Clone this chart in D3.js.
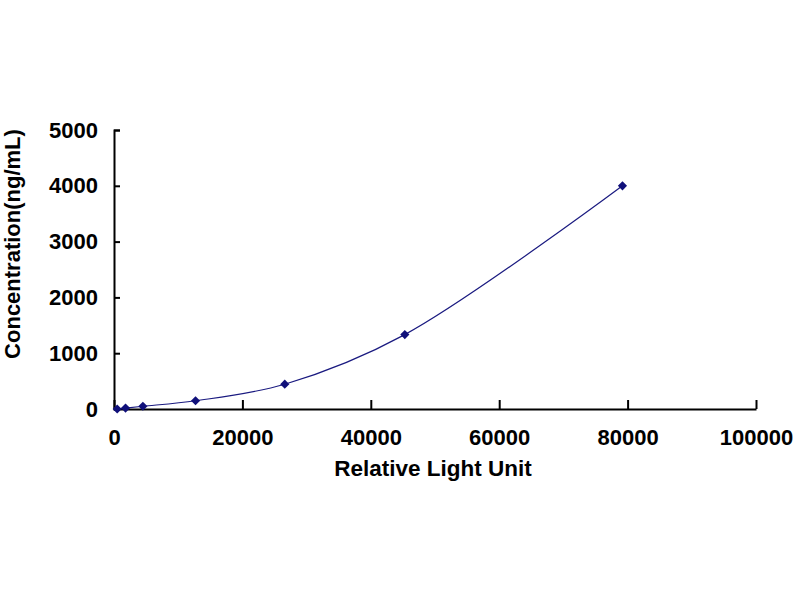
<!DOCTYPE html>
<html>
<head>
<meta charset="utf-8">
<script src="https://cdn.jsdelivr.net/npm/d3@7"></script>
<style>
  body { margin: 0; background: #fff; }
  text { font-family: "Liberation Sans", Arial, sans-serif; font-weight: bold; fill: #000; }
</style>
</head>
<body>
<div id="chart-area"></div>
<script>
// standard curve values
const rlu = [500, 1800, 4500, 12700, 26600, 45300, 79200]
const conc = [0, 16.5, 49.4, 148.1, 444.4, 1333.3, 4000]
const xTicks = [0, 20000, 40000, 60000, 80000, 100000]
const yTicks = [0, 1000, 2000, 3000, 4000, 5000]

const X0 = 114, X1 = 756
const Y0 = 409, Y1 = 130

const svg = d3.select("#chart-area").append("svg")
  .attr("width", 800)
  .attr("height", 600)

svg.append("rect").attr("width", 800).attr("height", 600).attr("fill", "#fff")

const xScale = d3.scaleLinear().domain([0, 100000]).range([X0, X1])
const yScale = d3.scaleLinear().domain([0, 5000]).range([Y0, Y1])

const xAxis = svg.append("g")
  .attr("transform", `translate(0, ${Y0})`)
  .call(d3.axisBottom(xScale).tickValues(xTicks).tickSize(-9).tickSizeOuter(0).tickPadding(20).tickFormat(d3.format("d")))
xAxis.selectAll("text").attr("font-size", "22px")
xAxis.attr("font-family", null).attr("font-size", null)

const yAxis = svg.append("g")
  .attr("transform", `translate(${X0}, 0)`)
  .call(d3.axisLeft(yScale).tickValues(yTicks).tickSize(-6).tickSizeOuter(-6).tickPadding(16).tickFormat(d3.format("d")))
yAxis.selectAll("text").attr("font-size", "22px")
yAxis.attr("font-family", null).attr("font-size", null)

svg.selectAll(".domain, .tick line").attr("stroke", "#000").attr("stroke-width", 2)

// axis titles
svg.append("text")
  .attr("x", 433)
  .attr("y", 476)
  .attr("font-size", "22.5px")
  .attr("text-anchor", "middle")
  .text("Relative Light Unit")

svg.append("text")
  .attr("transform", "translate(20, 244) rotate(-90)")
  .attr("font-size", "22px")
  .attr("text-anchor", "middle")
  .text("Concentration(ng/mL)")

const data = rlu.map((r, i) => ({ x: r, y: conc[i] }))

svg.append("path")
  .datum(data)
  .attr("fill", "none")
  .attr("stroke", "#1a1a80")
  .attr("stroke-width", 1.2)
  .attr("d", d3.line()
    .x(d => xScale(d.x))
    .y(d => yScale(d.y))
    .curve(d3.curveCatmullRom.alpha(0.5)))

svg.selectAll(".pt")
  .data(data)
  .enter().append("path")
  .attr("class", "pt")
  .attr("transform", d => `translate(${xScale(d.x)}, ${yScale(d.y)}) rotate(45)`)
  .attr("d", d3.symbol().type(d3.symbolSquare).size(42))
  .attr("fill", "#10107a")
</script>
</body>
</html>
